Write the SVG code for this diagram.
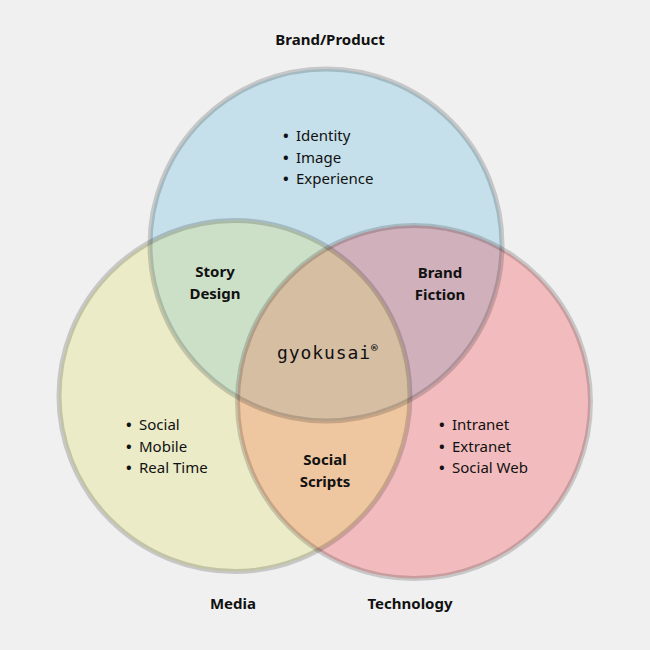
<svg xmlns="http://www.w3.org/2000/svg" width="650" height="650" viewBox="0 0 650 650">
<style>
.lbl{font-family:"Noto Sans","Open Sans","DejaVu Sans",sans-serif;font-size:15px;fill:#111}
.b{font-weight:bold;text-anchor:middle}
.dot{font-weight:bold}
.ring{fill:none;stroke:#000;stroke-opacity:0.17;stroke-width:5}
.mono{font-family:"DejaVu Sans Mono","Liberation Mono",monospace;font-size:18px;fill:#111;letter-spacing:0.9px}
</style>
<defs>
<clipPath id="cT"><circle cx="326" cy="245" r="176"/></clipPath>
<clipPath id="cL"><circle cx="234.5" cy="396" r="175.5"/></clipPath>
<clipPath id="cR"><circle cx="414" cy="402" r="176.5"/></clipPath>
</defs>
<rect width="650" height="650" fill="#f0f0f0"/>
<g id="regions">
<circle cx="326" cy="245" r="176" fill="#c5e0ea"/>
<circle cx="234.5" cy="396" r="175.5" fill="#ebebc8"/>
<circle cx="414" cy="402" r="176.5" fill="#f2bcbe"/>
<circle cx="234.5" cy="396" r="175.5" fill="#cce0c8" clip-path="url(#cT)"/>
<circle cx="414" cy="402" r="176.5" fill="#d0b0bb" clip-path="url(#cT)"/>
<circle cx="414" cy="402" r="176.5" fill="#eec6a0" clip-path="url(#cL)"/>
<g clip-path="url(#cT)"><circle cx="414" cy="402" r="176.5" fill="#d6bea3" clip-path="url(#cL)"/></g>
</g>
<g id="connectors"></g>
<g id="brand">
<circle class="ring" cx="326" cy="245" r="176"/>
<text class="lbl b" x="330" y="45">Brand/Product</text>
<text class="lbl" y="141"><tspan class="dot" x="283">•</tspan><tspan x="296">Identity</tspan></text>
<text class="lbl" y="163"><tspan class="dot" x="283">•</tspan><tspan x="296">Image</tspan></text>
<text class="lbl" y="184"><tspan class="dot" x="283">•</tspan><tspan x="296">Experience</tspan></text>
</g>
<g id="media">
<circle class="ring" cx="234.5" cy="396" r="175.5"/>
<text class="lbl b" x="233" y="609">Media</text>
<text class="lbl" y="430"><tspan class="dot" x="126">•</tspan><tspan x="139">Social</tspan></text>
<text class="lbl" y="452"><tspan class="dot" x="126">•</tspan><tspan x="139">Mobile</tspan></text>
<text class="lbl" y="473"><tspan class="dot" x="126">•</tspan><tspan x="139">Real Time</tspan></text>
</g>
<g id="technology">
<circle class="ring" cx="414" cy="402" r="176.5"/>
<text class="lbl b" x="410" y="609">Technology</text>
<text class="lbl" y="430"><tspan class="dot" x="439">•</tspan><tspan x="452">Intranet</tspan></text>
<text class="lbl" y="452"><tspan class="dot" x="439">•</tspan><tspan x="452">Extranet</tspan></text>
<text class="lbl" y="473"><tspan class="dot" x="439">•</tspan><tspan x="452">Social Web</tspan></text>
</g>
<g id="story-design"><text class="lbl b" x="215" y="277">Story</text><text class="lbl b" x="215" y="299">Design</text></g>
<g id="brand-fiction"><text class="lbl b" x="440" y="278">Brand</text><text class="lbl b" x="440" y="300">Fiction</text></g>
<g id="social-scripts"><text class="lbl b" x="325" y="465">Social</text><text class="lbl b" x="325" y="487">Scripts</text></g>
<g id="gyokusai"><text class="mono" x="277" y="359">gyokusai<tspan font-size="11" font-weight="bold" dy="-7">®</tspan></text></g>
</svg>
